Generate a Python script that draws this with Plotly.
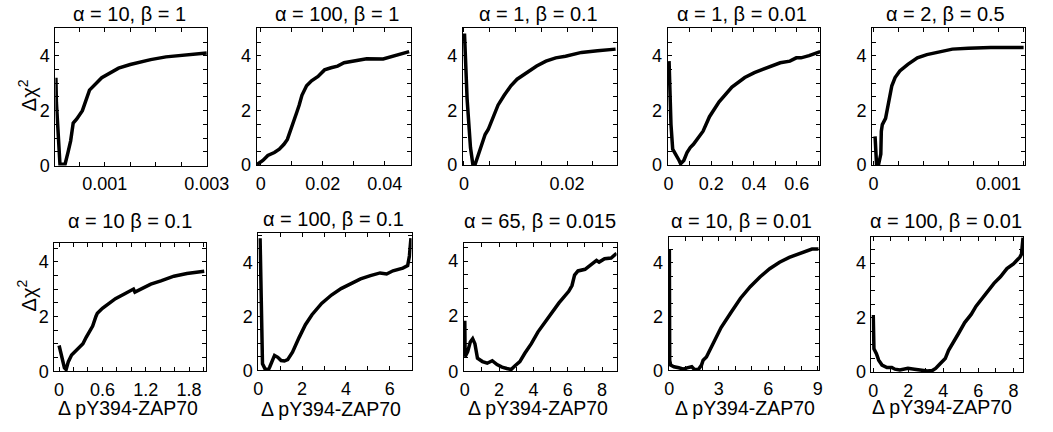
import numpy as np
import plotly.graph_objects as go

W, H = 1053, 432
FONT = "Liberation Sans, Arial, sans-serif"

titles = ["α = 10, β = 1", "α = 100, β = 1", "α = 1, β = 0.1", "α = 1, β = 0.01",
          "α = 2, β = 0.5", "α = 10 β = 0.1", "α = 100, β = 0.1", "α = 65, β = 0.015",
          "α = 10, β = 0.01", "α = 100, β = 0.01"]
x_title = "Δ pY394-ZAP70"
y_title = "Δχ<sup>2</sup>"

# ---- curve data (x = Δ pY394-ZAP70, y = Δχ²) ----
p1_x = [0.00004, 0.00005, 0.00012, 0.00022, 0.00028, 0.00033, 0.00038, 0.00045, 0.00056,
        0.00065, 0.0007, 0.00094, 0.00127, 0.0015, 0.0019, 0.0022, 0.0026, 0.003]
p1_y = [3.2, 2.3, 0.05, 0.05, 0.5, 0.9, 1.55, 1.7, 2.0, 2.45, 2.75, 3.2, 3.55, 3.68, 3.86,
        3.96, 4.04, 4.1]

p2_x = [-0.0012, 0.0007, 0.0023, 0.0044, 0.006, 0.0075, 0.0086, 0.0096, 0.0107, 0.0117,
        0.0124, 0.0133, 0.0148, 0.0164, 0.0185, 0.0206, 0.0227, 0.0248, 0.0269, 0.0311,
        0.0342, 0.0395, 0.0437, 0.0479]
p2_y = [0.02, 0.17, 0.35, 0.46, 0.58, 0.76, 0.94, 1.24, 1.65, 1.95, 2.19, 2.55, 2.9, 3.08,
        3.24, 3.48, 3.56, 3.62, 3.74, 3.83, 3.89, 3.88, 4.0, 4.15]

p3_x = [0.0001, 0.0006, 0.00126, 0.0017, 0.0022, 0.0028, 0.0034, 0.0041, 0.0047, 0.0056,
        0.0066, 0.0078, 0.0091, 0.0103, 0.0122, 0.0141, 0.0159, 0.0178, 0.0197, 0.0222,
        0.0228, 0.0259, 0.0294]
p3_y = [4.81, 2.43, 0.64, 0.05, 0.05, 0.4, 0.76, 1.12, 1.3, 1.71, 2.19, 2.55, 2.9, 3.14,
        3.38, 3.62, 3.8, 3.92, 3.98, 4.07, 4.12, 4.18, 4.24]

p4_x = [0.003, 0.012, 0.02, 0.035, 0.05, 0.057, 0.072, 0.087, 0.102, 0.117, 0.162, 0.192,
        0.237, 0.297, 0.357, 0.402, 0.463, 0.523, 0.568, 0.598, 0.62, 0.658, 0.71]
p4_y = [3.8, 1.48, 0.58, 0.4, 0.17, 0.05, 0.17, 0.46, 0.64, 0.76, 1.24, 1.77, 2.31, 2.85,
        3.2, 3.38, 3.56, 3.74, 3.8, 3.92, 3.92, 4.0, 4.15]

p5_x = [0.000013, 0.000025, 0.00004, 0.000059, 0.000063, 0.000071, 0.000097, 0.000122,
        0.000147, 0.000173, 0.000211, 0.000275, 0.000351, 0.000427, 0.000529, 0.000631,
        0.000758, 0.000937, 0.0012]
p5_y = [1.05, 0.02, 0.0, 0.4, 1.24, 1.48, 1.71, 2.31, 2.9, 3.2, 3.44, 3.68, 3.92, 4.04,
        4.15, 4.24, 4.27, 4.3, 4.3]

p6_x = [0.0, 0.04, 0.074, 0.097, 0.128, 0.173, 0.24, 0.33, 0.375, 0.42, 0.465, 0.51, 0.53,
        0.6, 0.69, 0.78, 0.91, 1.03, 1.05, 1.14, 1.27, 1.41, 1.59, 1.77, 2.01]
p6_y = [0.94, 0.53, 0.12, 0.06, 0.35, 0.59, 0.77, 1.0, 1.24, 1.47, 1.65, 2.0, 2.12, 2.3,
        2.47, 2.65, 2.83, 3.0, 2.89, 3.0, 3.18, 3.3, 3.47, 3.57, 3.65]

p7_x = [0.08, 0.15, 0.19, 0.3, 0.45, 0.52, 0.64, 0.74, 0.89, 1.04, 1.19, 1.34, 1.56, 1.71,
        1.86, 2.15, 2.45, 2.89, 3.34, 3.78, 4.23, 4.67, 5.12, 5.56, 5.86, 6.15, 6.6, 6.82,
        6.9, 6.97]
p7_y = [4.9, 0.6, 0.24, 0.06, 0.0, 0.12, 0.36, 0.55, 0.48, 0.36, 0.34, 0.39, 0.67, 0.97,
        1.21, 1.69, 2.06, 2.48, 2.79, 3.03, 3.21, 3.39, 3.51, 3.61, 3.57, 3.69, 3.79, 3.88,
        4.24, 4.9]

p8_x = [0.0, 0.02, 0.17, 0.32, 0.46, 0.59, 0.74, 1.03, 1.31, 1.6, 1.88, 2.17, 2.45, 2.7,
        2.93, 3.21, 3.5, 3.88, 4.26, 4.92, 5.49, 6.06, 6.25, 6.4, 6.6, 7.01, 7.39, 7.68,
        7.83, 8.15, 8.53, 8.85]
p8_y = [1.83, 0.53, 0.71, 1.06, 1.18, 1.0, 0.47, 0.35, 0.29, 0.38, 0.24, 0.15, 0.1, 0.06,
        0.2, 0.35, 0.65, 1.0, 1.42, 2.01, 2.48, 2.9, 3.11, 3.49, 3.64, 3.7, 3.9, 4.02, 3.96,
        4.08, 4.11, 4.28]

p9_x = [0.0, 0.02, 0.08, 0.28, 0.57, 0.87, 1.07, 1.36, 1.52, 1.76, 1.95, 2.05, 2.25, 2.44,
        2.74, 3.14, 3.73, 4.32, 4.91, 5.5, 6.09, 6.69, 7.28, 7.87, 8.27, 8.66, 9.05]
p9_y = [4.5, 0.37, 0.19, 0.13, 0.09, 0.04, 0.09, 0.13, 0.03, 0.03, 0.19, 0.37, 0.49, 0.74,
        1.1, 1.59, 2.14, 2.68, 3.11, 3.47, 3.78, 4.02, 4.2, 4.32, 4.41, 4.51, 4.51]

p10_x = [0.0, 0.04, 0.18, 0.31, 0.5, 0.78, 1.06, 1.24, 1.52, 1.98, 2.35, 2.81, 3.09, 3.37,
         3.56, 3.83, 4.11, 4.3, 4.48, 4.85, 5.22, 5.59, 5.87, 6.15, 6.52, 6.89, 7.26, 7.63,
         8.0, 8.37, 8.46, 8.55]
p10_y = [2.1, 0.86, 0.68, 0.44, 0.26, 0.17, 0.17, 0.11, 0.08, 0.14, 0.11, 0.08, 0.04, 0.06,
         0.14, 0.32, 0.5, 0.8, 0.98, 1.4, 1.82, 2.12, 2.42, 2.65, 2.96, 3.26, 3.5, 3.8, 3.97,
         4.22, 4.33, 4.93]

# ---- labelled x ticks per panel ----
p1_xlabels = [0.001, 0.003]
p2_xlabels = [0, 0.02, 0.04]
p3_xlabels = [0, 0.02]
p4_xlabels = [0, 0.2, 0.4, 0.6]
p5_xlabels = [0, 0.001]
p6_xlabels = [0, 0.6, 1.2, 1.8]
p7_xlabels = [0, 2, 4, 6]
p8_xlabels = [0, 2, 4, 6, 8]
p9_xlabels = [0, 3, 6, 9]
p10_xlabels = [0, 2, 4, 6, 8]
y_labels = [0, 2, 4]

data = [(p1_x, p1_y, p1_xlabels), (p2_x, p2_y, p2_xlabels), (p3_x, p3_y, p3_xlabels),
        (p4_x, p4_y, p4_xlabels), (p5_x, p5_y, p5_xlabels), (p6_x, p6_y, p6_xlabels),
        (p7_x, p7_y, p7_xlabels), (p8_x, p8_y, p8_xlabels), (p9_x, p9_y, p9_xlabels),
        (p10_x, p10_y, p10_xlabels)]

# ---- layout (pixel boxes, axis ranges, tick steps) ----
# (left, right, top, bottom, xrange, yrange, xstep, title_cx, title_cy)
boxes = [
    (51.7, 207.5, 29, 169.5, [0.00003, 0.00301], [0, 5], 0.0005, 127.5, 14),
    (258.3, 416.7, 29, 169, [-0.0013, 0.0485], [0, 5], 0.01, 341, 14),
    (470, 627.7, 29, 169, [-0.0002, 0.0296], [0, 5], 0.005, 547.5, 14.5),
    (680, 836.7, 29, 169, [-0.004, 0.71], [0, 5], 0.1, 756.7, 14.5),
    (890, 1046.7, 29, 169, [-0.00001, 0.00121], [0, 5], 0.0002, 965, 14.5),
    (50.7, 206.7, 248.3, 380, [-0.065, 2.04], [0, 4.7], 0.2, 128, 226),
    (260, 417.3, 238.3, 379, [0, 7.0], [0, 5.1], 1, 337.3, 224),
    (471, 627.7, 248.3, 380, [-0.05, 8.85], [0, 4.67], 1, 549.2, 226),
    (681, 835.7, 242.3, 379, [-0.05, 9.1], [0, 4.97], 1, 755.8, 226),
    (889.3, 1045, 242.3, 381, [-0.1, 8.56], [0, 4.97], 1, 965.8, 226),
]
xtitle_pos = [(None, None)] * 5 + [(125.8, 418), (335, 418.5), (546.7, 417.5),
                                   (759.7, 417.5), (961.3, 417)]
ytitle_pos = [(23, 97), None, None, None, None, (22, 302), None, None, None, None]


def fmt(v):
    return f"{v:g}"


def tick_grid(rng, step):
    start = np.ceil(rng[0] / step - 1e-9) * step
    return [float(v) for v in np.round(np.arange(start, rng[1] + step * 1e-6, step), 10)]


fig = go.Figure()
annotations = []
layout = {}
for i, ((xs, ys, xlabels), box) in enumerate(zip(data, boxes)):
    l, r, t, b, xr, yr, xstep, tcx, tcy = box
    n = "" if i == 0 else str(i + 1)
    fig.add_trace(go.Scatter(x=xs, y=ys, mode="lines", xaxis="x" + n, yaxis="y" + n,
                             line=dict(color="black", width=3.5), showlegend=False,
                             hoverinfo="skip"))
    common = dict(showline=True, linecolor="black", linewidth=1, mirror="ticks",
                  ticks="inside", ticklen=4, tickwidth=1, tickcolor="black",
                  showgrid=False, zeroline=False, tickmode="array", tickangle=0,
                  tickfont=dict(family=FONT, size=18, color="black"))
    layout["xaxis" + n] = dict(domain=[l / W, r / W], range=xr, anchor="y" + n,
                               tickvals=list(xlabels), ticktext=[fmt(v) for v in xlabels],
                               minor=dict(tickmode="array", tickvals=tick_grid(xr, xstep),
                                          ticks="inside", ticklen=4, tickwidth=1,
                                          tickcolor="black", showgrid=False),
                               ticklabelstandoff=2, **common)
    layout["yaxis" + n] = dict(domain=[1 - b / H, 1 - t / H], range=yr, anchor="x" + n,
                               tickvals=y_labels, ticktext=[fmt(v) for v in y_labels],
                               minor=dict(tickmode="array", tickvals=tick_grid(yr, 0.5),
                                          ticks="inside", ticklen=4, tickwidth=1,
                                          tickcolor="black", showgrid=False),
                               ticklabelstandoff=1, **common)
    annotations.append(dict(text=titles[i], x=tcx / W, y=1 - tcy / H, xref="paper",
                            yref="paper", showarrow=False, xanchor="center",
                            yanchor="middle", font=dict(family=FONT, size=20, color="black")))
    if xtitle_pos[i][0] is not None:
        annotations.append(dict(text=x_title, x=xtitle_pos[i][0] / W,
                                y=1 - xtitle_pos[i][1] / H, xref="paper", yref="paper",
                                showarrow=False, xanchor="center", yanchor="middle",
                                borderpad=0,
                                font=dict(family=FONT, size=19.5, color="black")))
    if ytitle_pos[i] is not None:
        annotations.append(dict(text=y_title, x=ytitle_pos[i][0] / W,
                                y=1 - ytitle_pos[i][1] / H, xref="paper", yref="paper",
                                showarrow=False, xanchor="center", yanchor="middle",
                                textangle=-90,
                                font=dict(family=FONT, size=20, color="black")))

fig.update_layout(width=W, height=H, margin=dict(l=0, r=0, t=0, b=0),
                  paper_bgcolor="white", plot_bgcolor="white",
                  annotations=annotations, **layout)
fig.write_html("out.html")
